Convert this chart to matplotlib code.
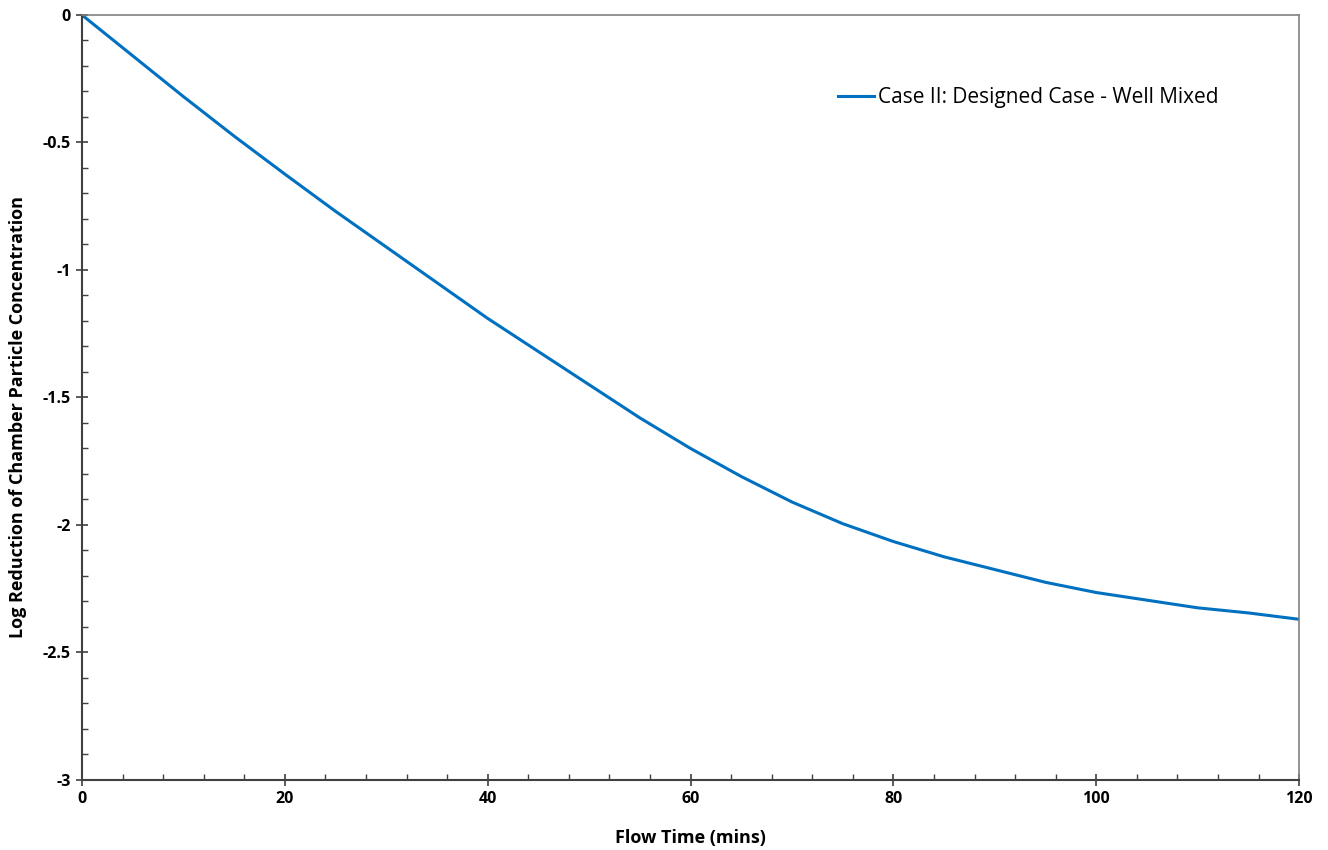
import numpy as np
import matplotlib.pyplot as plt
from matplotlib.ticker import MultipleLocator, FuncFormatter

# values
flow_time = [0, 5, 10, 15, 20, 25, 30, 35, 40, 45, 50, 55, 60, 62.5, 65, 70, 75, 80, 85, 90, 95, 100, 105, 110, 115, 120]
log_reduction = [0.0, -0.16, -0.32, -0.475, -0.624, -0.77, -0.91, -1.05, -1.19, -1.32, -1.45, -1.58, -1.70, -1.755, -1.81, -1.91, -1.995, -2.065, -2.125, -2.175, -2.225, -2.265, -2.295, -2.325, -2.345, -2.37]
series_label = 'Case II: Designed Case - Well Mixed'

plt.rcParams['font.family'] = ['Open Sans', 'DejaVu Sans']

fig = plt.figure(figsize=(13.28, 8.5), dpi=100)
ax = fig.add_axes([0.0617, 0.0824, 0.9166, 0.9])

ax.plot(flow_time, log_reduction, color='#0070C0', lw=2.2, label=series_label)

ax.set_xlim(0, 120)
ax.set_ylim(-3, 0)
ax.xaxis.set_major_locator(MultipleLocator(20))
ax.xaxis.set_minor_locator(MultipleLocator(4))
ax.yaxis.set_major_locator(MultipleLocator(0.5))
ax.yaxis.set_minor_locator(MultipleLocator(0.1))
ax.yaxis.set_major_formatter(FuncFormatter(lambda v, p: f'{v:g}'.replace('\u2212', '-')))
ax.tick_params(which='major', direction='inout', length=9, width=1.2, color='#404040')
ax.tick_params(which='minor', direction='in', length=4, width=1.0, color='#404040')
ax.tick_params(labelsize=11.5)
for lab in ax.get_xticklabels() + ax.get_yticklabels():
    lab.set_fontweight('bold')

for side in ['left', 'bottom']:
    ax.spines[side].set_color('#404040')
    ax.spines[side].set_linewidth(1.5)
for side in ['top', 'right']:
    ax.spines[side].set_color('#808080')
    ax.spines[side].set_linewidth(1.2)

ax.set_xlabel('Flow Time (mins)', fontsize=13, fontweight='bold', labelpad=16)
ax.set_ylabel('Log Reduction of Chamber Particle Concentration', fontsize=13, fontweight='bold')
ax.yaxis.set_label_coords(-0.045, 0.474)

ax.legend(loc='upper left', bbox_to_anchor=(0.606, 0.93), frameon=False, fontsize=15,
          handlelength=1.7, handletextpad=0.2)

fig.savefig('out.png', dpi=100)
